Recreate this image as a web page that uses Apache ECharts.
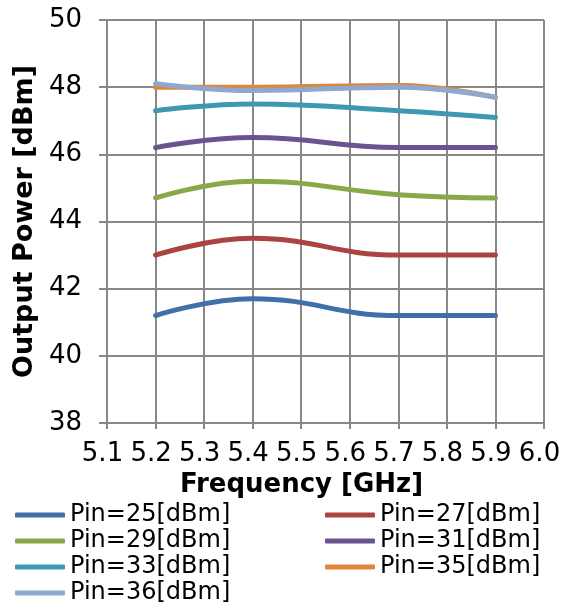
<!DOCTYPE html>
<html><head><meta charset="utf-8">
<script src="https://cdn.jsdelivr.net/npm/echarts@6/dist/echarts.min.js"></script>
<style>html,body{margin:0;padding:0;background:#fff}#c{width:576px;height:606px}</style>
</head><body><div id="c"></div>
<script>
const freqs = [5.2, 5.4, 5.7, 5.9];
const xTicks = ['5.1','5.2','5.3','5.4','5.5','5.6','5.7','5.8','5.9','6.0'];
const yTicks = [38, 40, 42, 44, 46, 48, 50];
const seriesNames = ['Pin=25[dBm]','Pin=27[dBm]','Pin=29[dBm]','Pin=31[dBm]','Pin=33[dBm]','Pin=35[dBm]','Pin=36[dBm]'];
const pin25 = [41.2, 41.7, 41.2, 41.2];
const pin27 = [43.0, 43.5, 43.0, 43.0];
const pin29 = [44.7, 45.2, 44.8, 44.7];
const pin31 = [46.2, 46.5, 46.2, 46.2];
const pin33 = [47.3, 47.5, 47.3, 47.1];
const pin35 = [48.0, 48.0, 48.05, 47.7];
const pin36 = [48.1, 47.9, 48.0, 47.7];
const colors = ['#4170a8','#a94442','#88a84a','#6b5390','#3e98b0','#e0853a','#8fa8cf'];
const allData = [pin25, pin27, pin29, pin31, pin33, pin35, pin36];

const chart = echarts.init(document.getElementById('c'));
const font = 'DejaVu Sans, Verdana, sans-serif';
const legends = seriesNames.map((n, i) => ({
  data: [n], orient: 'horizontal', padding: 0,
  left: (i % 2 === 0) ? 15 : 325,
  top: 503 + Math.floor(i / 2) * 26,
  itemWidth: 50, itemHeight: 5, icon: 'roundRect',
  textStyle: {fontFamily: font, fontSize: 24, color: '#000'}
}));
chart.setOption({
  animation: false,
  grid: {left: 107, right: 32, top: 20, bottom: 183, outerBoundsMode: 'none', containLabel: false},
  xAxis: {
    type: 'value', min: 5.1, max: 6.0, interval: 0.1,
    name: 'Frequency [GHz]', nameLocation: 'middle', nameGap: 48,
    nameTextStyle: {fontFamily: font, fontSize: 26, fontWeight: 'bold', color: '#000', padding: [0, 48, 0, 0]},
    axisLine: {lineStyle: {color: '#888', width: 2}},
    axisTick: {show: true, length: 6, lineStyle: {color: '#888', width: 2}},
    splitLine: {show: true, lineStyle: {color: '#888', width: 2}},
    axisLabel: {fontFamily: font, fontSize: 26, color: '#000', margin: 18, padding: [0, 9, 0, 0],
      formatter: v => { const s = v.toFixed(1); return xTicks.includes(s) ? s : ''; }}
  },
  yAxis: {
    type: 'value', min: 38, max: 50, interval: 2,
    name: 'Output Power [dBm]', nameLocation: 'middle', nameGap: 69,
    nameTextStyle: {fontFamily: font, fontSize: 27, fontWeight: 'bold', color: '#000'},
    axisLine: {show: true, lineStyle: {color: '#888', width: 2}},
    axisTick: {show: true, length: 8, lineStyle: {color: '#888', width: 2}},
    splitLine: {show: true, lineStyle: {color: '#888', width: 2}},
    axisLabel: {fontFamily: font, fontSize: 26, color: '#000', margin: 25,
      formatter: v => yTicks.includes(v) ? String(v) : ''}
  },
  legend: legends,
  series: seriesNames.map((n, i) => ({
    name: n, type: 'line', smooth: 0.45, showSymbol: false, symbol: 'none',
    color: colors[i],
    lineStyle: {width: 5, color: colors[i], cap: 'round'},
    data: freqs.map((f, j) => [f, allData[i][j]])
  }))
});
</script></body></html>
